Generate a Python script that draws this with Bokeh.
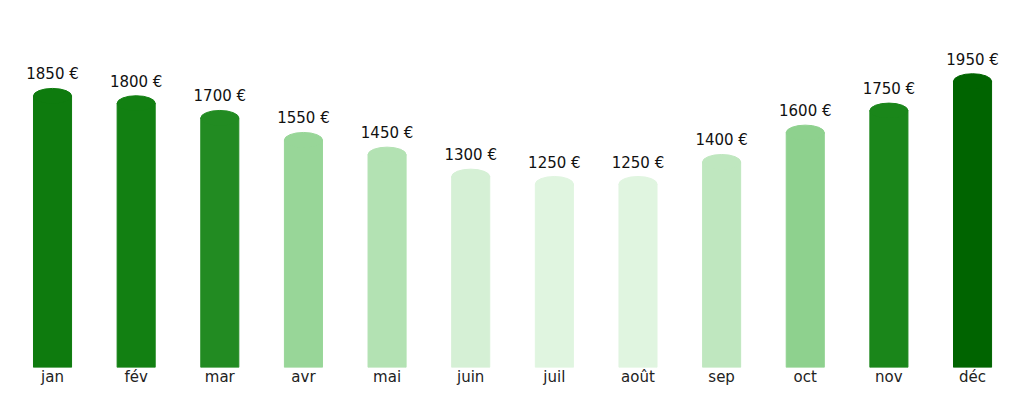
from bokeh.plotting import figure
from bokeh.models import ColumnDataSource, Range1d, FixedTicker
from bokeh.core.properties import value
from bokeh.embed import file_html
from bokeh.resources import INLINE

# Monthly values
months = ["jan", "fév", "mar", "avr", "mai", "juin", "juil", "août", "sep", "oct", "nov", "déc"]
amounts = [1850, 1800, 1700, 1550, 1450, 1300, 1250, 1250, 1400, 1600, 1750, 1950]
colors = ["#0e7b0e", "#128012", "#228b22", "#98d698", "#b3e2b3", "#d5f0d5",
          "#e0f5e0", "#e0f5e0", "#bfe7bf", "#8ed18e", "#1a861a", "#006400"]

xs = list(range(len(months)))
source = ColumnDataSource(data={
    'x': xs,
    'amount': amounts,
    'color': colors,
    'label': ["%d €" % a for a in amounts],
})

p = figure(width=1008, height=388, output_backend="svg", toolbar_location=None,
           x_range=Range1d(-0.622, 11.43), y_range=Range1d(0, 2500),
           min_border_left=0, min_border_right=0, min_border_top=0, min_border_bottom=0)

# bars with rounded tops
p.vbar(x='x', top='amount', width=0.455, color='color', source=source)
p.ellipse(x='x', y='amount', width=0.455, height=15, height_units="screen",
          color='color', source=source)

p.text(x='x', y='amount', text='label', source=source, text_align="center",
       text_baseline="middle", y_offset=-21.5, text_font=value("DejaVu Sans"),
       text_font_size="15px", text_color="#111111")

p.xaxis.ticker = FixedTicker(ticks=xs)
p.xaxis.major_label_overrides = {i: m for i, m in enumerate(months)}
p.xaxis.major_label_text_font = "DejaVu Sans"
p.xaxis.major_label_text_font_size = "15px"
p.xaxis.major_label_text_color = "#222222"
p.xaxis.major_label_standoff = 0
p.xaxis.major_tick_out = 0
p.xaxis.major_tick_in = 0
p.xaxis.minor_tick_out = 0
p.xaxis.minor_tick_in = 0
p.xaxis.major_tick_line_color = None
p.xaxis.minor_tick_line_color = None
p.xaxis.axis_line_color = None
p.yaxis.visible = False
p.grid.visible = False
p.outline_line_color = None

open("out.html", "w").write(file_html(p, INLINE))
